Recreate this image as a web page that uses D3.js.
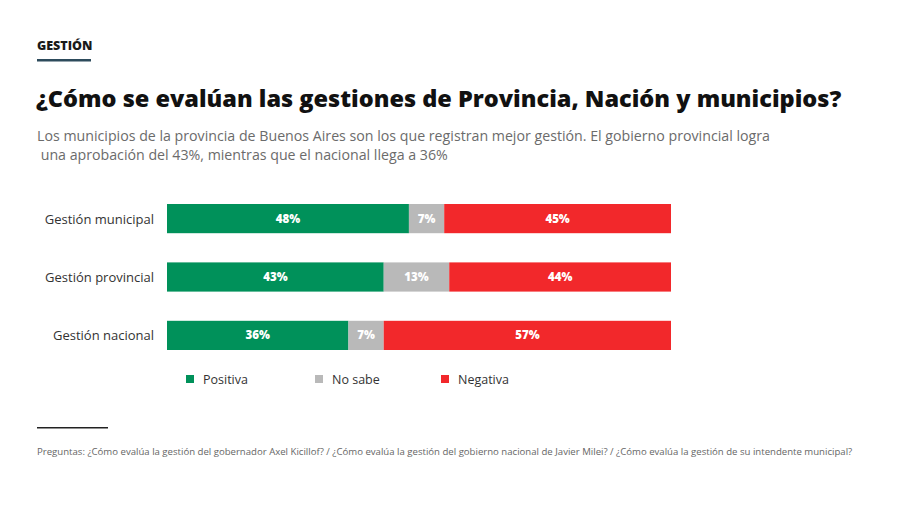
<!DOCTYPE html>
<html>
<head>
<meta charset="utf-8">
<script src="https://cdn.jsdelivr.net/npm/d3@7"></script>
<style>
  body { margin: 0; background: #fff; }
  svg { display: block; font-family: "Open Sans", sans-serif; }
</style>
</head>
<body>
<div id="chart"></div>
<script>
// data
const categories = ["Gestión municipal", "Gestión provincial", "Gestión nacional"];
const seriesNames = ["Positiva", "No sabe", "Negativa"];
const positiva = [48, 43, 36];
const noSabe = [7, 13, 7];
const negativa = [45, 44, 57];

const colors = ["#00915a", "#b9b9b9", "#f2282b"];

const width = 900, height = 505;

let svg = d3.select("#chart").append("svg")
    .attr("width", width)
    .attr("height", height);

// header
svg.append("text")
    .attr("x", 37).attr("y", 50)
    .attr("font-size", 12.5).attr("font-weight", 800).attr("fill", "#1a1a1a")
    .text("GESTIÓN");
svg.append("rect")
    .attr("x", 37).attr("y", 59).attr("width", 54).attr("height", 2.5)
    .attr("fill", "#2d4b5c");

svg.append("text")
    .attr("x", 36).attr("y", 107)
    .attr("font-size", 23.5).attr("font-weight", 800).attr("fill", "#111")
    .text("¿Cómo se evalúan las gestiones de Provincia, Nación y municipios?");

let sub = svg.append("text")
    .attr("font-size", 14.2).attr("fill", "#6b6b6b");
sub.append("tspan").attr("x", 37).attr("y", 141)
    .text("Los municipios de la provincia de Buenos Aires son los que registran mejor gestión. El gobierno provincial logra");
sub.append("tspan").attr("x", 37).attr("y", 160)
    .text(" una aprobación del 43%, mientras que el nacional llega a 36%");

// chart
let rows = categories.map(function (c, i) {
    return {name: c, values: [positiva[i], noSabe[i], negativa[i]]};
});

let x = d3.scaleLinear().domain([0, 100]).range([167, 671]);
let y = d3.scaleBand().domain(categories).range([204, 350]).paddingInner(0.5).paddingOuter(0);

let stack = d3.stack().keys([0, 1, 2]).value(function (d, k) { return d.values[k]; });
let layers = stack(rows);

let g = svg.append("g");

layers.forEach(function (layer, k) {
    let lg = g.append("g");
    lg.selectAll("rect")
        .data(layer)
        .enter().append("rect")
        .attr("x", function (d) { return x(d[0]); })
        .attr("y", function (d) { return y(d.data.name); })
        .attr("width", function (d) { return x(d[1]) - x(d[0]); })
        .attr("height", y.bandwidth())
        .attr("fill", colors[k]);
    lg.selectAll("text")
        .data(layer)
        .enter().append("text")
        .attr("x", function (d) { return (x(d[0]) + x(d[1])) / 2; })
        .attr("y", function (d) { return y(d.data.name) + y.bandwidth() / 2 + 4; })
        .attr("text-anchor", "middle")
        .attr("font-size", 11.5).attr("font-weight", 800).attr("fill", "#fff")
        .text(function (d) { return (d[1] - d[0]) + "%"; });
});

g.selectAll("text.cat")
    .data(categories)
    .enter().append("text")
    .attr("class", "cat")
    .attr("x", 154)
    .attr("y", function (d) { return y(d) + y.bandwidth() / 2 + 5; })
    .attr("text-anchor", "end")
    .attr("font-size", 13).attr("fill", "#333")
    .text(function (d) { return d; });

// legend
let legendX = [186, 315, 441];
let leg = svg.append("g").selectAll("g")
    .data(seriesNames)
    .enter().append("g")
    .attr("transform", function (d, i) { return "translate(" + legendX[i] + ",375)"; });
leg.append("rect").attr("width", 8).attr("height", 8)
    .attr("fill", function (d, i) { return colors[i]; });
leg.append("text").attr("x", 17).attr("y", 8.5)
    .attr("font-size", 12.5).attr("fill", "#333")
    .text(function (d) { return d; });

// footer
svg.append("rect")
    .attr("x", 37).attr("y", 427).attr("width", 71).attr("height", 1.5)
    .attr("fill", "#222");
svg.append("text")
    .attr("x", 37).attr("y", 455)
    .attr("font-size", 9.6).attr("fill", "#666")
    .text("Preguntas: ¿Cómo evalúa la gestión del gobernador Axel Kicillof? / ¿Cómo evalúa la gestión del gobierno nacional de Javier Milei? / ¿Cómo evalúa la gestión de su intendente municipal?");
</script>
</body>
</html>
